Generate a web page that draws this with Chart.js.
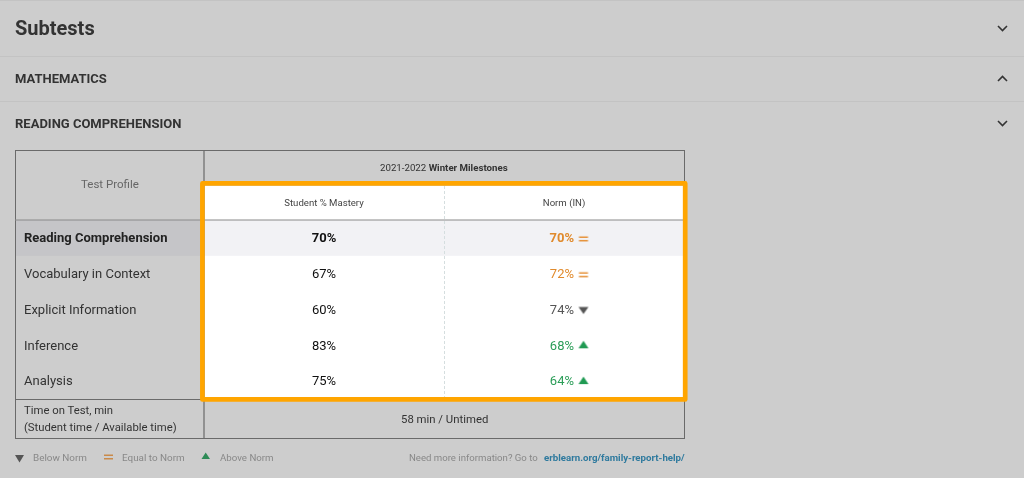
<!DOCTYPE html>
<html>
<head>
<meta charset="utf-8">
<script src="https://cdn.jsdelivr.net/npm/chart.js@4"></script>
<style>
html,body{margin:0;padding:0;width:1024px;height:478px;overflow:hidden;background:#cdcdcd;font-family:Roboto,sans-serif}
canvas{position:absolute;left:0;top:0}
.t{position:absolute;white-space:nowrap;line-height:1}
.rule{position:absolute;left:0;width:1024px;height:1px;background:#c3c3c3}
svg{position:absolute;overflow:visible}
</style>
</head>
<body>
<canvas id="c" width="1024" height="478"></canvas>
<div class="rule" style="top:0"></div>
<div class="rule" style="top:56px"></div>
<div class="rule" style="top:101px"></div>
<div class="t" style="left:15px;top:18px;font-size:20px;font-weight:700;color:#333">Subtests</div>
<div class="t" style="left:15px;top:72px;font-size:13px;font-weight:700;color:#333">MATHEMATICS</div>
<div class="t" style="left:15px;top:117px;font-size:13px;font-weight:700;color:#333">READING COMPREHENSION</div>
<svg style="left:0;top:0" width="1024" height="478">
  <polyline points="998,26 1002.5,30.5 1007,26" fill="none" stroke="#333" stroke-width="1.6"/>
  <polyline points="998,81 1002.5,76.5 1007,81" fill="none" stroke="#333" stroke-width="1.6"/>
  <polyline points="998,121 1002.5,125.5 1007,121" fill="none" stroke="#333" stroke-width="1.6"/>
  <polygon points="15,455 24,455 19.5,462.5" fill="#555"/>
  <rect x="104" y="454.5" width="9" height="1.5" fill="#c98a4a"/>
  <rect x="104" y="458" width="9" height="1.5" fill="#c98a4a"/>
  <polygon points="201.5,459 210,459 205.7,452.5" fill="#2e8b57"/>
</svg>
<div class="t" style="left:81px;top:179px;font-size:11.5px;color:#666">Test Profile</div>
<div class="t" style="left:380px;top:163px;font-size:9.7px;color:#333">2021-2022 <b>Winter Milestones</b></div>
<div class="t" style="left:24px;top:405px;font-size:11.3px;color:#333">Time on Test, min</div>
<div class="t" style="left:24px;top:422px;font-size:11.3px;color:#333">(Student time / Available time)</div>
<div class="t" style="left:401px;top:414px;font-size:11.35px;color:#333">58 min / Untimed</div>
<div class="t" style="left:33px;top:453px;font-size:9.9px;color:#888">Below Norm</div>
<div class="t" style="left:122px;top:453px;font-size:9.9px;color:#888">Equal to Norm</div>
<div class="t" style="left:220px;top:453px;font-size:9.7px;color:#888">Above Norm</div>
<div class="t" style="left:409px;top:453px;font-size:9.6px;color:#888">Need more information? Go to</div>
<div class="t" style="left:544px;top:453px;font-size:9.7px;font-weight:700;color:#2f7a9e">erblearn.org/family-report-help/</div>
<script>
const categories = ['Reading Comprehension','Vocabulary in Context','Explicit Information','Inference','Analysis'];
const columns = ['Student % Mastery','Norm (IN)'];
const studentValues = [70,67,60,83,75];
const normValues = [70,72,74,68,64];
const normStatus = ['equal','equal','below','above','above'];

const statusColor = {equal:'#e08a2c', below:'#555555', above:'#2a9d57'};
const markerOffset = 19.5;

function marker(status){
  const w = 2*(markerOffset+7), h = 16;
  const cv = document.createElement('canvas');
  cv.width = w; cv.height = h;
  const g = cv.getContext('2d');
  const cx = w/2 + markerOffset, cy = h/2;
  g.fillStyle = status==='below' ? '#555555' : status==='above' ? '#1f9a52' : '#e69138';
  if(status==='equal'){
    g.fillRect(cx-4.5, cy-2.5, 9, 1.5);
    g.fillRect(cx-4.5, cy+1, 9, 1.5);
  } else {
    g.beginPath();
    if(status==='below'){ g.moveTo(cx-5,cy-3.5); g.lineTo(cx+5,cy-3.5); g.lineTo(cx,cy+3.5); }
    else { g.moveTo(cx-5,cy+2); g.lineTo(cx+5,cy+2); g.lineTo(cx,cy-5.5); }
    g.closePath(); g.fill();
  }
  return cv;
}
const markers = {equal:marker('equal'), below:marker('below'), above:marker('above')};

const tablePlugin = {
  id:'table',
  beforeDraw(chart){
    const {ctx, chartArea:a} = chart;
    const T = a.top-1, B = a.bottom-1, rowH = (B-T)/categories.length;
    ctx.save();
    ctx.fillStyle='#ffffff';
    ctx.fillRect(a.left, 186, a.right-a.left, B-186);
    ctx.fillStyle='#f2f2f5';
    ctx.fillRect(a.left, T, a.right-a.left, rowH);
    ctx.fillStyle='#c5c5c8';
    ctx.fillRect(15, T, a.left-15, rowH);
    ctx.strokeStyle='#6a6a6a'; ctx.lineWidth=1;
    ctx.strokeRect(15.5,150.5,669,288);
    ctx.lineWidth=1.2;
    ctx.beginPath();
    ctx.moveTo(204,150); ctx.lineTo(204,439);
    ctx.moveTo(15,B+0.5); ctx.lineTo(a.left,B+0.5);
    ctx.stroke();
    ctx.strokeStyle='#8a8a8a'; ctx.lineWidth=1.2;
    ctx.beginPath(); ctx.moveTo(15,T); ctx.lineTo(a.right,T); ctx.stroke();
    ctx.strokeStyle='#d5dedf'; ctx.lineWidth=1; ctx.setLineDash([3,2]);
    ctx.beginPath(); ctx.moveTo(444.5,186); ctx.lineTo(444.5,B); ctx.stroke();
    ctx.restore();
  },
  afterDatasetsDraw(chart){
    const {ctx} = chart;
    ctx.save();
    ctx.textBaseline='middle';
    chart.getDatasetMeta(0).data.forEach((p,i)=>{
      ctx.font=(i===0?'700 ':'400 ')+'13px Roboto';
      ctx.fillStyle='#111111';
      ctx.textAlign='center';
      ctx.fillText(studentValues[i]+'%', p.x, p.y);
    });
    chart.getDatasetMeta(1).data.forEach((p,i)=>{
      ctx.font=(i===0?'700 ':'400 ')+'13px Roboto';
      ctx.fillStyle=statusColor[normStatus[i]];
      ctx.textAlign='right';
      ctx.fillText(normValues[i]+'%', p.x+10, p.y);
    });
    ctx.strokeStyle='#ffa500'; ctx.lineWidth=4.7; ctx.lineJoin='round';
    ctx.strokeRect(202.4,183.4,482.8,216);
    ctx.restore();
  }
};

new Chart(document.getElementById('c'),{
  type:'line',
  data:{
    xLabels:columns,
    yLabels:categories,
    datasets:[
      {label:columns[0], showLine:false, pointRadius:0,
       data:categories.map(c=>({x:columns[0],y:c}))},
      {label:columns[1], showLine:false, pointRadius:5, pointHoverRadius:5,
       pointStyle:ctx=>markers[normStatus[ctx.dataIndex]],
       data:categories.map(c=>({x:columns[1],y:c}))}
    ]
  },
  plugins:[tablePlugin],
  options:{
    responsive:false, animation:false, devicePixelRatio:1,
    events:[],
    layout:{padding:{left:24,top:187,right:340,bottom:78}},
    plugins:{legend:{display:false},title:{display:false},tooltip:{enabled:false}},
    scales:{
      x:{type:'category',position:'top',offset:true,labels:columns,
         grid:{display:false},border:{display:false},
         afterFit(s){s.height=34;},
         ticks:{padding:4,maxRotation:0,autoSkip:false,color:'#444',font:{family:'Roboto',size:9.6}}},
      y:{type:'category',position:'left',offset:true,labels:categories,
         grid:{display:false},border:{display:false},
         afterFit(s){s.width=180;},
         ticks:{crossAlign:'far',autoSkip:false,padding:0,
           color:c=>c.index===0?'#222':'#333',
           font:c=>({family:'Roboto',size:13,weight:c.index===0?'700':'400'})}}
    }
  }
});
</script>
</body>
</html>
